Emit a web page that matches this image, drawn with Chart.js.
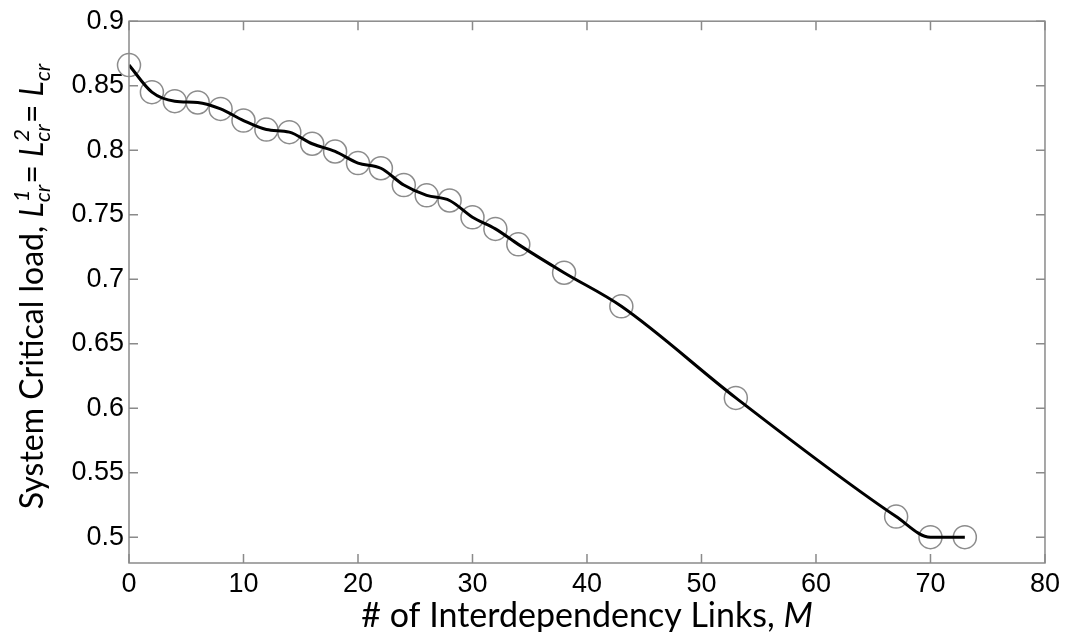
<!DOCTYPE html>
<html lang="en">
<head>
    <meta charset="UTF-8">
    <title>System Critical load</title>
    <script src="https://cdn.jsdelivr.net/npm/chart.js@4.4.1/dist/chart.umd.min.js"></script>
    <style>
        html, body { margin: 0; padding: 0; background: #fff; }
        #wrap { width: 1065px; height: 632px; }
    </style>
</head>
<body>
    <div id="wrap"><canvas id="lcr"></canvas></div>
    <script>
        // values
        const links = [0, 2, 4, 6, 8, 10, 12, 14, 16, 18, 20, 22, 24, 26, 28, 30, 32, 34, 38, 43, 53, 67, 70, 73];
        const critLoad = [0.866, 0.845, 0.838, 0.837, 0.832, 0.823, 0.816, 0.814, 0.805, 0.799, 0.790, 0.786,
                          0.773, 0.765, 0.761, 0.748, 0.739, 0.727, 0.705, 0.679, 0.608, 0.516, 0.500, 0.500];
        const xTicks = [0, 10, 20, 30, 40, 50, 60, 70, 80];
        const yTicks = [0.5, 0.55, 0.6, 0.65, 0.7, 0.75, 0.8, 0.85, 0.9];

        const axisGrey = '#8a8a8a';
        const tickFont = { family: '"Liberation Sans", Arial, sans-serif', size: 27 };
        const titleFamily = 'Lato, "Open Sans", sans-serif';

        const pts = links.map((m, i) => ({ x: m, y: critLoad[i] }));

        // one line of text with italic parts and stacked super/subscripts
        function drawRich(ctx, pieces, cx, cy, rot, size) {
            const small = Math.round(size * 0.7);
            const font = (it, s) => (it ? 'italic ' : '') + s + 'px ' + titleFamily;
            let total = 0;
            pieces.forEach(p => {
                if (p.t) {
                    ctx.font = font(p.it, size);
                    p.w = ctx.measureText(p.t).width;
                } else {
                    ctx.font = font(true, small);
                    p.w = Math.max(p.sup ? ctx.measureText(p.sup).width : 0,
                                   p.sub ? ctx.measureText(p.sub).width : 0) + 1;
                }
                total += p.w;
            });
            ctx.save();
            ctx.translate(cx, cy);
            ctx.rotate(rot);
            ctx.fillStyle = '#000';
            ctx.textBaseline = 'alphabetic';
            ctx.textAlign = 'left';
            let x = -total / 2;
            const base = size * 0.36;
            pieces.forEach(p => {
                if (p.t) {
                    ctx.font = font(p.it, size);
                    ctx.fillText(p.t, x, base);
                } else {
                    ctx.font = font(true, small);
                    if (p.sup) ctx.fillText(p.sup, x, base - size * 0.42);
                    if (p.sub) ctx.fillText(p.sub, x, base + size * 0.24);
                }
                x += p.w;
            });
            ctx.restore();
        }

        const framePlugin = {
            id: 'frame',
            afterDraw(chart) {
                const { ctx, chartArea: a, scales } = chart;
                ctx.save();
                ctx.strokeStyle = axisGrey;
                ctx.lineWidth = 1.5;
                ctx.strokeRect(a.left, a.top, a.right - a.left, a.bottom - a.top);
                const len = 9;
                ctx.beginPath();
                xTicks.forEach(v => {
                    const px = scales.x.getPixelForValue(v);
                    ctx.moveTo(px, a.bottom); ctx.lineTo(px, a.bottom - len);
                    ctx.moveTo(px, a.top); ctx.lineTo(px, a.top + len);
                });
                yTicks.forEach(v => {
                    const py = scales.y.getPixelForValue(v);
                    ctx.moveTo(a.left, py); ctx.lineTo(a.left + len, py);
                    ctx.moveTo(a.right, py); ctx.lineTo(a.right - len, py);
                });
                ctx.stroke();
                ctx.restore();

                drawRich(ctx, [
                    { t: '# of Interdependency Links, ' },
                    { t: 'M', it: true }
                ], (a.left + a.right) / 2, 615, 0, 34);

                drawRich(ctx, [
                    { t: 'System Critical load, ' },
                    { t: 'L', it: true }, { sup: '1', sub: 'cr' },
                    { t: '= ' },
                    { t: 'L', it: true }, { sup: '2', sub: 'cr' },
                    { t: '= ' },
                    { t: 'L', it: true }, { sub: 'cr' }
                ], 31, 286, -Math.PI / 2, 32);
            }
        };

        new Chart(document.getElementById('lcr'), {
            type: 'line',
            data: {
                datasets: [{
                    label: 'curve',
                    data: pts,
                    borderColor: '#000',
                    borderWidth: 3,
                    pointRadius: 0,
                    cubicInterpolationMode: 'monotone',
                    fill: false,
                    order: 0
                }, {
                    label: 'samples',
                    data: pts,
                    showLine: false,
                    pointStyle: 'circle',
                    pointRadius: 11.5,
                    pointBorderWidth: 1.5,
                    pointBorderColor: '#8c8c8c',
                    pointBackgroundColor: 'rgba(0,0,0,0)',
                    clip: false,
                    order: 1
                }]
            },
            options: {
                responsive: true,
                maintainAspectRatio: false,
                animation: false,
                layout: { padding: { top: 21, right: 18, left: 0, bottom: 0 } },
                plugins: {
                    legend: { display: false },
                    tooltip: { enabled: false }
                },
                scales: {
                    x: {
                        type: 'linear',
                        min: 0,
                        max: 80,
                        afterBuildTicks: s => { s.ticks = xTicks.map(v => ({ value: v })); },
                        afterFit: s => { s.height = 69; },
                        grid: { display: false, drawTicks: false },
                        border: { display: false },
                        ticks: { font: tickFont, color: '#000', padding: 5, maxRotation: 0 }
                    },
                    y: {
                        type: 'linear',
                        min: 0.48,
                        max: 0.9,
                        afterBuildTicks: s => { s.ticks = yTicks.map(v => ({ value: v })); },
                        afterFit: s => { s.width = 129; },
                        grid: { display: false, drawTicks: false },
                        border: { display: false },
                        ticks: {
                            font: tickFont,
                            color: '#000',
                            padding: 5,
                            callback: v => String(+v.toFixed(2))
                        }
                    }
                }
            },
            plugins: [framePlugin]
        });
    </script>
</body>
</html>
